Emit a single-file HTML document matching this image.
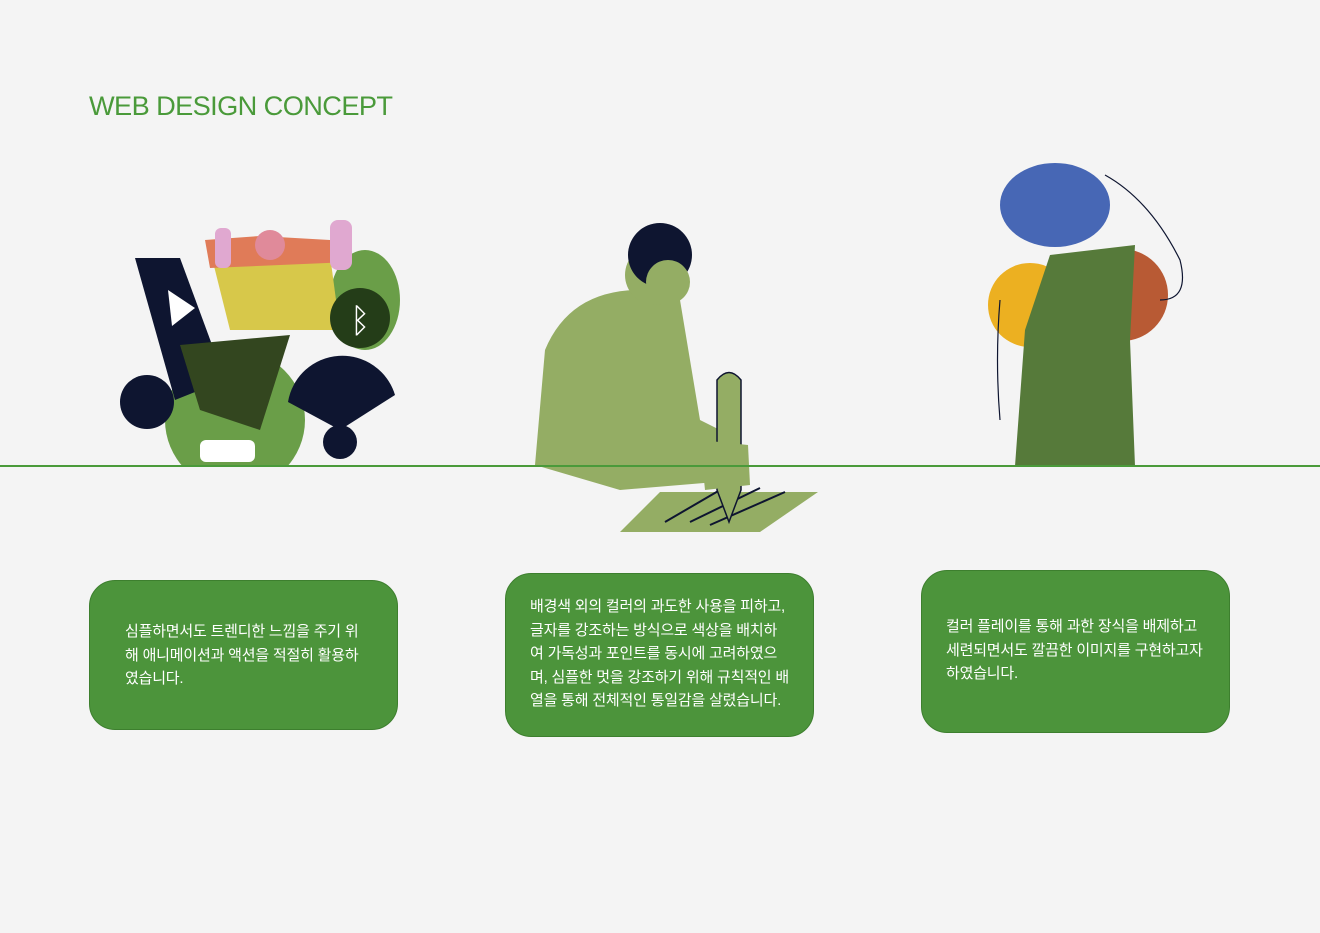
<!DOCTYPE html>
<html><head><meta charset="utf-8">
<style>
html,body{margin:0;padding:0;}
body{width:1320px;height:933px;background:#f4f4f4;position:relative;overflow:hidden;font-family:"Liberation Sans","Noto Sans CJK KR",sans-serif;}
.title{position:absolute;left:89px;top:90px;font-size:27.2px;color:#4a9a3a;letter-spacing:-0.6px;margin:0;font-weight:normal;}
.line{position:absolute;left:0;top:465px;width:1320px;height:2px;background:#4a9a3a;}
.box{position:absolute;width:309px;background:#4c943b;border:1px solid #3d7f2e;border-radius:26px;box-sizing:border-box;}
.txt{position:absolute;color:#fff;font-size:15px;line-height:23.6px;white-space:nowrap;letter-spacing:-0.2px;}
svg{position:absolute;left:0;top:0;}
</style></head><body>
<h1 class="title">WEB DESIGN CONCEPT</h1>
<svg width="1320" height="560">
 <defs><clipPath id="above"><rect x="0" y="0" width="1320" height="466"/></clipPath></defs>
 <g clip-path="url(#above)">
  <circle cx="235" cy="420" r="70" fill="#6a9e48"/>
  <ellipse cx="365" cy="300" rx="35" ry="50" fill="#6a9e48"/>
  <polygon points="135,258 180,258 225,380 175,400" fill="#0e1530"/>
  <polygon points="168,290 195,308 172,326" fill="#fff"/>
  <path d="M210 250 Q270 230 330 255 L340 330 L230 330 Z" fill="#d7c84a"/>
  <path d="M205 240 L260 236 L330 240 L350 262 L210 268 Z" fill="#e07b58"/>
  <circle cx="270" cy="245" r="15" fill="#e08a9a"/>
  <rect x="215" y="228" width="16" height="40" rx="6" fill="#e0a8d0"/>
  <rect x="330" y="220" width="22" height="50" rx="8" fill="#e0a8d0"/>
  <polygon points="180,345 290,335 260,430 200,410" fill="#33461f"/>
  <circle cx="360" cy="318" r="30" fill="#243d18"/>
  <text x="350" y="332" font-size="34" fill="#fff">ᛒ</text>
  <path d="M288 402 A55 55 0 0 1 395 395 L340 430 Z" fill="#0e1530"/>
  <circle cx="340" cy="442" r="17" fill="#0e1530"/>
  <circle cx="147" cy="402" r="27" fill="#0e1530"/>
  <rect x="200" y="440" width="55" height="22" rx="6" fill="#fff"/>
 </g>
 <g>
  <path d="M545 350 Q570 290 640 290 L680 300 L700 420 L740 440 L740 480 L620 490 L535 465 Z" fill="#94ad64"/>
  <circle cx="655" cy="275" r="30" fill="#94ad64"/>
  <circle cx="660" cy="255" r="32" fill="#0e1530"/>
  <circle cx="668" cy="282" r="22" fill="#94ad64"/>
  <polygon points="660,492 818,492 760,532 620,532" fill="#94ad64"/>
  <path d="M665 522 L720 490 M690 522 L760 488 M710 525 L785 492" stroke="#0e1530" stroke-width="2"/>
  <path d="M717 380 Q729 365 741 380 L741 490 L729 522 L717 490 Z" fill="#94ad64" stroke="#0e1530" stroke-width="1.5"/>
  <path d="M700 440 L748 445 L750 485 L705 490 Z" fill="#94ad64"/>
 </g>
 <g clip-path="url(#above)">
  <circle cx="1030" cy="305" r="42" fill="#ecb021"/>
  <circle cx="1122" cy="295" r="46" fill="#b85a34"/>
  <ellipse cx="1055" cy="205" rx="55" ry="42" fill="#4767b5"/>
  <path d="M1050 255 L1135 245 L1130 340 L1135 466 L1015 466 L1025 330 Z" fill="#567a3a"/>
  <path d="M1105 175 Q1150 200 1180 260 Q1190 300 1160 300" fill="none" stroke="#0e1530" stroke-width="1.2"/>
  <path d="M1000 300 Q995 360 1000 420" fill="none" stroke="#0e1530" stroke-width="1.2"/>
 </g>
</svg>
<div class="line"></div>
<div class="box" style="left:89px;top:580px;height:150px;"></div>
<div class="txt" style="left:125px;top:620px;">심플하면서도 트렌디한 느낌을 주기 위<br>해 애니메이션과 액션을 적절히 활용하<br>였습니다.</div>
<div class="box" style="left:505px;top:573px;height:164px;"></div>
<div class="txt" style="left:530px;top:595px;">배경색 외의 컬러의 과도한 사용을 피하고,<br>글자를 강조하는 방식으로 색상을 배치하<br>여 가독성과 포인트를 동시에 고려하였으<br>며, 심플한 멋을 강조하기 위해 규칙적인 배<br>열을 통해 전체적인 통일감을 살렸습니다.</div>
<div class="box" style="left:921px;top:570px;height:163px;"></div>
<div class="txt" style="left:946px;top:615px;">컬러 플레이를 통해 과한 장식을 배제하고<br>세련되면서도 깔끔한 이미지를 구현하고자<br>하였습니다.</div>
</body></html>
